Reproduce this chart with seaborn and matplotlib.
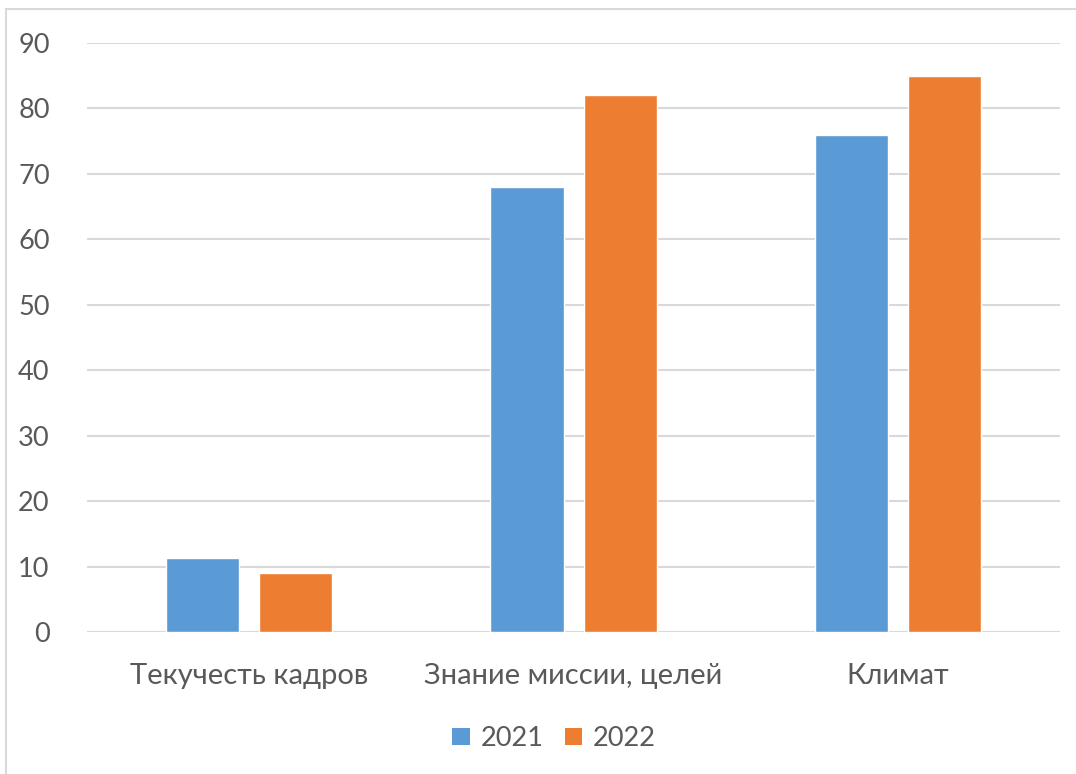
import matplotlib
matplotlib.use("Agg")
import matplotlib.pyplot as plt
import seaborn as sns
import pandas as pd
from matplotlib.patches import Rectangle, Patch

categories = ["Текучесть кадров", "Знание миссии, целей", "Климат"]
years = ["2021", "2022"]
values_2021 = [11.3, 68, 76]
values_2022 = [9, 82, 85]
yticks = [0, 10, 20, 30, 40, 50, 60, 70, 80, 90]

df = pd.DataFrame({
    "cat": categories * 2,
    "year": [years[0]] * 3 + [years[1]] * 3,
    "val": values_2021 + values_2022,
})

sns.set_theme(style="white")
plt.rcParams["font.family"] = ["Lato", "DejaVu Sans"]

text_color = "#595959"
grid_color = "#D9D9D9"
palette = {"2021": "#5B9BD5", "2022": "#ED7D31"}
fs = 21
fs_num = 19.5

fig = plt.figure(figsize=(10.76, 7.74), dpi=100)
ax = fig.add_axes([0.081, 0.1835, 0.904, 0.761])

sns.barplot(data=df, x="cat", y="val", hue="year", palette=palette,
            width=0.574, gap=0.215, ax=ax, legend=False, saturation=1)

ax.set_ylim(0, 90)
ax.set_yticks(yticks)
ax.set_xlim(-0.5, 2.5)
ax.set_xlabel("")
ax.set_ylabel("")
for s in ax.spines.values():
    s.set_visible(False)
ax.grid(axis="y", color=grid_color, linewidth=1.5)
ax.set_axisbelow(True)
ax.axhline(0, color=grid_color, linewidth=1.5, zorder=0)
ax.tick_params(axis="y", length=0, pad=27, labelsize=fs_num, labelcolor=text_color)
ax.tick_params(axis="x", length=0, pad=22, labelsize=fs, labelcolor=text_color)

handles = [Patch(facecolor=palette[y], edgecolor="none") for y in years]
fig.legend(handles, years, loc="center", bbox_to_anchor=(0.515, 0.046),
           ncol=2, frameon=False, fontsize=fs_num, labelcolor=text_color,
           handlelength=0.63, handleheight=0.63, handletextpad=0.4, columnspacing=0.8)

fig.patches.append(Rectangle((6 / 1076, -0.1), 1.2, 1 - 9 / 774 + 0.1,
                             transform=fig.transFigure, fill=False,
                             edgecolor=grid_color, linewidth=1.5))

fig.savefig("out.png", dpi=100)
